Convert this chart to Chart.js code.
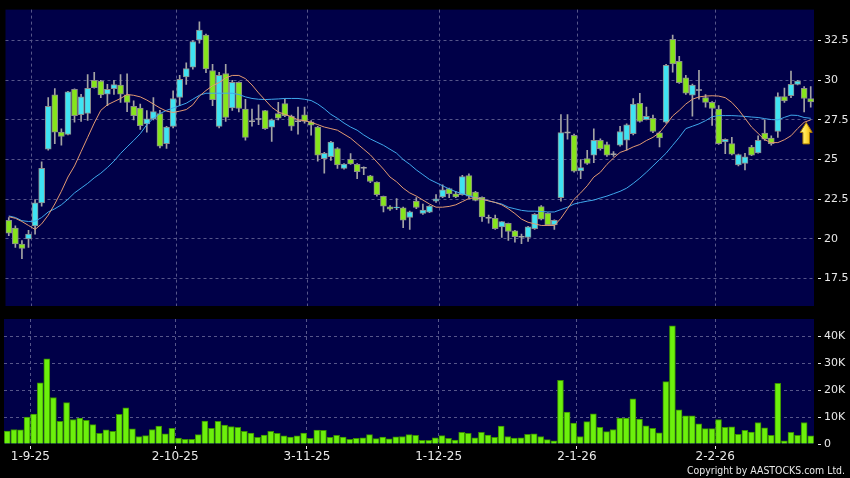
<!DOCTYPE html>
<html><head><meta charset="utf-8">
<script src="https://cdn.jsdelivr.net/npm/chart.js@4/dist/chart.umd.min.js"></script>
<style>
html,body{margin:0;padding:0;background:#000;}
#wrap{position:relative;width:850px;height:478px;overflow:hidden;background:#000;}
canvas{position:absolute;left:0;top:0;}
</style></head><body>
<div id="wrap"><canvas id="price" width="850" height="478"></canvas><canvas id="vol" width="850" height="478"></canvas></div>
<script>
// x-axis tick labels and the candle index of each labelled trading day
const tickLabels = ['1-9-25','2-10-25','3-11-25','1-12-25','2-1-26','2-2-26'];
const tickIndex  = [3, 25, 45, 65, 86, 107];

const opens = [21.17,20.68,19.68,20.0,20.82,22.27,25.66,29.08,26.73,26.59,
29.43,27.83,27.91,30.0,29.95,29.12,29.47,29.7,29.08,28.35,
28.25,27.25,27.56,27.9,26.0,27.09,28.91,30.2,30.82,32.54,
32.85,30.61,27.09,30.42,28.25,29.86,28.18,27.42,27.55,28.08,
27.04,27.89,28.52,27.73,27.42,27.82,27.38,27.04,25.05,25.18,
25.7,24.45,25.02,24.7,24.48,23.98,23.58,22.68,22.02,21.95,
21.96,21.36,22.38,21.61,21.69,22.38,22.64,23.17,22.85,22.79,
23.99,22.95,22.62,21.34,21.3,20.76,20.99,20.51,20.14,20.09,
20.65,22.04,21.61,20.88,22.6,26.71,26.53,24.29,25.07,25.28,
26.22,25.94,25.34,25.9,26.22,26.63,28.54,27.52,27.6,26.69,
27.35,32.58,31.19,30.15,29.05,29.39,28.91,28.6,28.18,26.11,
26.0,24.66,24.76,25.78,25.42,26.67,26.36,26.77,28.97,29.02,
29.74,29.49,28.85];
const highs = [21.34,20.82,19.9,20.55,22.48,24.86,28.91,29.47,26.94,29.3,
29.45,29.11,30.36,30.5,30.0,29.74,30.0,30.36,30.4,28.7,
28.5,28.08,28.9,28.1,27.1,29.33,30.3,31.09,32.5,33.68,
32.9,31.0,30.5,31.0,30.0,29.9,28.8,28.18,28.45,28.1,
27.55,28.6,28.8,27.8,28.3,28.3,27.45,27.1,25.45,26.15,
25.75,24.75,25.38,24.75,24.55,24.0,23.6,22.7,22.1,22.54,
22.0,21.75,22.6,22.2,22.1,22.8,23.41,23.2,23.0,24.0,
24.1,23.0,22.65,21.5,21.5,21.1,21.0,20.55,20.3,20.8,
21.6,22.1,21.65,21.2,27.84,27.84,26.6,25.0,25.59,26.94,
26.3,26.1,25.5,27.1,27.25,28.85,29.18,28.3,27.8,26.75,
31.0,32.85,31.5,30.3,29.75,30.63,29.1,28.65,28.4,26.3,
26.4,25.35,25.4,25.9,26.5,27.5,26.5,29.2,29.5,30.57,
30.0,29.6,29.6];
const lows = [20.2,19.47,18.75,19.47,20.3,22.07,25.6,26.0,25.9,26.55,
27.35,27.4,27.46,29.5,28.9,28.4,29.1,28.6,28.02,27.5,
26.9,26.73,27.5,25.74,25.7,27.0,28.4,29.74,30.7,32.33,
30.47,28.4,27.0,27.4,28.1,28.0,26.22,27.1,27.2,26.9,
26.15,27.5,27.7,26.84,26.6,27.3,26.53,24.9,24.14,24.95,
24.45,24.4,24.7,23.79,24.05,23.55,22.7,21.7,21.8,21.85,
20.71,20.6,21.9,21.55,21.65,22.3,22.6,22.6,22.6,22.75,
22.6,22.4,21.1,21.0,20.6,20.1,19.9,19.8,19.7,19.85,
20.6,21.2,20.85,20.6,22.38,26.28,24.2,23.79,24.7,24.8,
25.6,25.2,25.2,25.85,25.6,26.55,27.35,27.5,26.7,25.8,
27.3,30.5,29.8,29.1,27.73,28.8,28.3,27.15,25.95,25.38,
25.3,24.6,24.35,25.25,25.4,26.2,25.9,26.4,28.6,28.9,
29.7,28.0,28.3];
const closes = [20.37,19.68,19.41,20.3,22.27,24.45,28.35,26.73,26.46,29.26,
27.77,28.95,29.49,29.53,29.08,29.43,29.72,29.12,28.6,27.77,
27.13,27.56,28.02,25.84,27.04,28.85,30.05,30.73,32.44,33.16,
30.71,28.77,30.3,27.66,29.86,28.22,26.4,27.42,27.55,26.94,
27.5,27.61,27.77,27.1,27.42,27.41,27.17,25.28,25.4,26.11,
24.66,24.71,24.73,24.24,24.48,23.62,22.79,22.06,21.87,22.0,
21.18,21.71,21.98,21.82,22.07,22.52,23.1,22.83,22.64,23.93,
22.69,22.42,21.38,21.34,20.65,21.09,20.47,20.14,20.14,20.76,
21.55,21.24,20.88,21.17,26.7,26.71,24.27,24.49,24.76,26.22,
25.68,25.28,25.34,26.77,27.19,28.49,27.4,27.73,26.77,26.36,
30.94,31.03,29.84,29.18,29.7,29.39,28.6,28.22,26.0,26.28,
25.34,25.32,25.18,25.28,26.22,26.28,26.0,28.97,28.7,29.74,
29.95,28.85,28.64];
const maShort = [21.4,21.3,21.1,20.85,20.6,20.95,21.5,22.2,23.0,23.9,
24.6,25.5,26.4,27.3,28.1,28.45,28.65,28.85,29.1,29.05,
28.95,28.75,28.5,28.25,28.05,27.97,28.05,28.15,28.45,29.0,
29.35,29.65,29.85,30.15,30.3,30.3,30.1,29.7,29.2,28.75,
28.3,28.0,27.85,27.7,27.5,27.45,27.35,27.2,27.05,26.95,
26.85,26.6,26.35,26.0,25.65,25.3,24.85,24.4,23.9,23.6,
23.2,22.9,22.7,22.45,22.2,22.0,22.0,22.05,22.15,22.35,
22.55,22.6,22.5,22.4,22.3,22.15,21.9,21.6,21.25,21.05,
20.95,20.85,20.85,20.85,21.3,21.9,22.5,22.9,23.35,23.9,
24.2,24.7,25.1,25.45,25.6,25.8,25.95,26.2,26.4,26.7,
27.2,27.75,28.1,28.5,28.8,28.95,29.0,29.02,29.0,28.9,
28.6,28.15,27.6,27.05,26.65,26.25,26.07,26.07,26.25,26.5,
26.95,27.35,27.5];
const maLong = [21.45,21.35,21.15,21.1,21.12,21.35,21.7,21.9,22.15,22.5,
22.9,23.2,23.5,23.85,24.14,24.5,24.9,25.38,25.8,26.2,
26.63,27.2,27.6,27.9,28.1,28.25,28.4,28.55,28.8,29.05,
29.18,29.18,29.18,29.18,29.18,29.1,28.95,28.85,28.8,28.78,
28.8,28.82,28.85,28.85,28.85,28.8,28.72,28.5,28.2,27.85,
27.6,27.3,27.05,26.85,26.55,26.3,26.1,25.9,25.65,25.4,
25.0,24.7,24.35,24.05,23.75,23.55,23.35,23.15,22.98,22.85,
22.72,22.6,22.5,22.4,22.3,22.2,22.0,21.9,21.8,21.75,
21.75,21.73,21.7,21.7,21.85,22.0,22.2,22.3,22.38,22.45,
22.58,22.7,22.85,23.0,23.2,23.5,23.83,24.2,24.6,25.0,
25.4,25.9,26.4,26.95,27.1,27.25,27.45,27.7,27.77,27.77,
27.77,27.75,27.72,27.68,27.65,27.58,27.52,27.5,27.66,27.8,
27.78,27.65,27.6];
const volumes = [4800,5400,5300,10000,11100,22800,31700,17300,8400,15400,
9100,9600,8800,7200,4000,5300,4700,11000,13500,5600,
2800,3100,5400,6700,3800,5800,2200,1700,1700,3500,
8500,5800,8400,7000,6500,6200,4700,4100,2500,3300,
4700,4000,3000,2600,3000,4100,2100,5200,5100,2500,
3200,2600,1700,2100,2300,3500,2000,2600,1900,2700,
2800,3500,3200,1400,1400,2300,3100,2100,1500,4300,
4000,2300,4300,3300,2500,6700,2800,2200,2300,3600,
3800,2800,1600,1200,23700,11900,7800,2800,8300,11200,
6200,4600,5400,9600,9600,16800,9300,6800,5800,4200,
23200,44000,12700,10500,10500,7500,5700,5700,9100,6200,
6400,3600,5100,4400,8000,6000,3200,22600,1200,4300,
3200,8000,3000];
const priceTicks = [17.5, 20, 22.5, 25, 27.5, 30, 32.5];
const volTicks = [0, 10000, 20000, 30000, 40000];
const copyright = 'Copyright by AASTOCKS.com Ltd.';

const C = {navy:'#000048', grid:'#56568a', cyan:'#3fe3f2', green:'#86e51c', edge:'#8c8c8c',
  wick:'#a4a4a4', maS:'#e39a72', maL:'#3fa8ec', vol:'#6cf00c', volEdge:'#3a8f00', text:'#e8e8e8'};

Chart.defaults.font.family = "'DejaVu Sans', sans-serif";
Chart.defaults.color = C.text;

const N = closes.length;
const idx = closes.map((_, i) => i);
const isDoji = idx.map(i => closes[i] === opens[i]);
const isUp = idx.map(i => closes[i] > opens[i]);

const plotBg = {id:'plotBg', beforeDraw(chart){
  const {ctx, chartArea:a} = chart;
  ctx.save(); ctx.fillStyle = C.navy;
  ctx.fillRect(a.left, a.top, a.right - a.left, a.bottom - a.top); ctx.restore();
}};

const arrow = {id:'arrow', afterDatasetsDraw(chart){
  const {ctx} = chart, xs = chart.scales.x, ys = chart.scales.y, L = N - 1;
  const cx = xs.getPixelForValue(L) - 4.5;
  const tip = ys.getPixelForValue(maShort[L]) + 2.5;
  ctx.save();
  const g = ctx.createLinearGradient(cx - 6, 0, cx + 6, 0);
  g.addColorStop(0, '#fff7a0'); g.addColorStop(0.5, '#ffe040'); g.addColorStop(1, '#e8a000');
  ctx.beginPath();
  ctx.moveTo(cx, tip); ctx.lineTo(cx + 6, tip + 10); ctx.lineTo(cx + 3.3, tip + 10);
  ctx.lineTo(cx + 3.3, tip + 21.5); ctx.lineTo(cx - 3.3, tip + 21.5); ctx.lineTo(cx - 3.3, tip + 10);
  ctx.lineTo(cx - 6, tip + 10); ctx.closePath();
  ctx.fillStyle = g; ctx.fill();
  ctx.strokeStyle = '#a87a00'; ctx.lineWidth = 1; ctx.stroke();
  ctx.restore();
}};

const copyPlugin = {id:'copy', afterDraw(chart){
  const {ctx} = chart;
  ctx.save(); ctx.font = "11px 'DejaVu Sans', sans-serif"; ctx.fillStyle = C.text;
  ctx.textAlign = 'right'; ctx.textBaseline = 'middle';
  ctx.fillText(copyright, 845, 471.5, 158);
  ctx.restore();
}};

const baseX = () => ({
  type:'linear', min:-0.5, max:N - 0.5, offset:false,
  afterBuildTicks: s => { s.ticks = tickIndex.map(v => ({value: v + 0.5})); },
  border:{display:false, dash:[3,3]}
});

new Chart(document.getElementById('price'), {
  type:'bar',
  data:{datasets:[
    {type:'line', data: idx.map(i => ({x:i, y:maShort[i]})), borderColor:C.maS, borderWidth:1, pointRadius:0, order:0},
    {type:'line', data: idx.map(i => ({x:i, y:maLong[i]})), borderColor:C.maL, borderWidth:1, pointRadius:0, order:0},
    {type:'line', showLine:false, data: idx.filter(i => isDoji[i]).map(i => ({x:i, y:closes[i]})),
      pointStyle:'line', pointRadius:3, pointBorderColor:C.wick, pointBorderWidth:1.5, borderColor:C.wick, order:1},
    {type:'bar', data: idx.map(i => ({x:i, y: isDoji[i] ? null : [opens[i], closes[i]]})),
      backgroundColor: idx.map(i => isUp[i] ? C.cyan : C.green), borderColor:C.edge, borderWidth:1,
      borderSkipped:false, barThickness:6, grouped:false, order:2},
    {type:'bar', data: idx.map(i => ({x:i, y:[lows[i], highs[i]]})), backgroundColor:C.wick,
      barThickness:1, grouped:false, order:3}
  ]},
  options:{
    responsive:false, animation:false, events:[],
    layout:{padding:{left:4, top:6, right:0, bottom:172}},
    plugins:{legend:{display:false}, tooltip:{enabled:false}},
    scales:{
      x: Object.assign(baseX(), {
        afterFit: s => { s.height = 0; },
        ticks:{display:false}, grid:{offset:false, color:C.grid, lineWidth:1, drawTicks:false}
      }),
      y:{position:'right', min:15.776, max:34.448,
        afterBuildTicks: s => { s.ticks = priceTicks.map(v => ({value:v})); },
        afterFit: s => { s.width = 36; },
        ticks:{color:C.text, font:{size:11}, padding:3, callback: v => String(v)},
        grid:{color:C.grid, tickColor:C.text, tickLength:7, tickBorderDash:[3,4], tickBorderDashOffset:3},
        border:{display:false, dash:[3,3]}}
    }
  },
  plugins:[plotBg, arrow]
});

new Chart(document.getElementById('vol'), {
  type:'bar',
  data:{datasets:[
    {data: idx.map(i => ({x:i, y:volumes[i]})), backgroundColor:C.vol, borderColor:C.volEdge,
      borderWidth:1, barThickness:6}
  ]},
  options:{
    responsive:false, animation:false, events:[],
    layout:{padding:{left:4, top:319, right:0, bottom:0}},
    plugins:{legend:{display:false}, tooltip:{enabled:false}},
    scales:{
      x: Object.assign(baseX(), {
        afterFit: s => { s.height = 34; },
        ticks:{color:C.text, font:{size:12}, padding:1, maxRotation:0, autoSkip:false,
          callback: (v, i) => tickLabels[i]},
        grid:{offset:false, color:C.grid, lineWidth:1, tickColor:C.text, tickLength:5, tickBorderDash:[3,2], tickBorderDashOffset:3}
      }),
      y:{position:'right', min:0, max:46500,
        afterBuildTicks: s => { s.ticks = volTicks.map(v => ({value:v})); },
        afterFit: s => { s.width = 36; },
        ticks:{color:C.text, font:{size:11}, padding:3, callback: v => v === 0 ? '0' : (v / 1000) + 'K'},
        grid:{color: c => (c.tick && c.tick.value === 0) ? 'rgba(0,0,0,0)' : C.grid,
          tickColor:C.text, tickLength:7, tickBorderDash:[3,4], tickBorderDashOffset:3},
        border:{display:false, dash:[3,3]}}
    }
  },
  plugins:[plotBg, copyPlugin]
});
</script>
</body></html>
